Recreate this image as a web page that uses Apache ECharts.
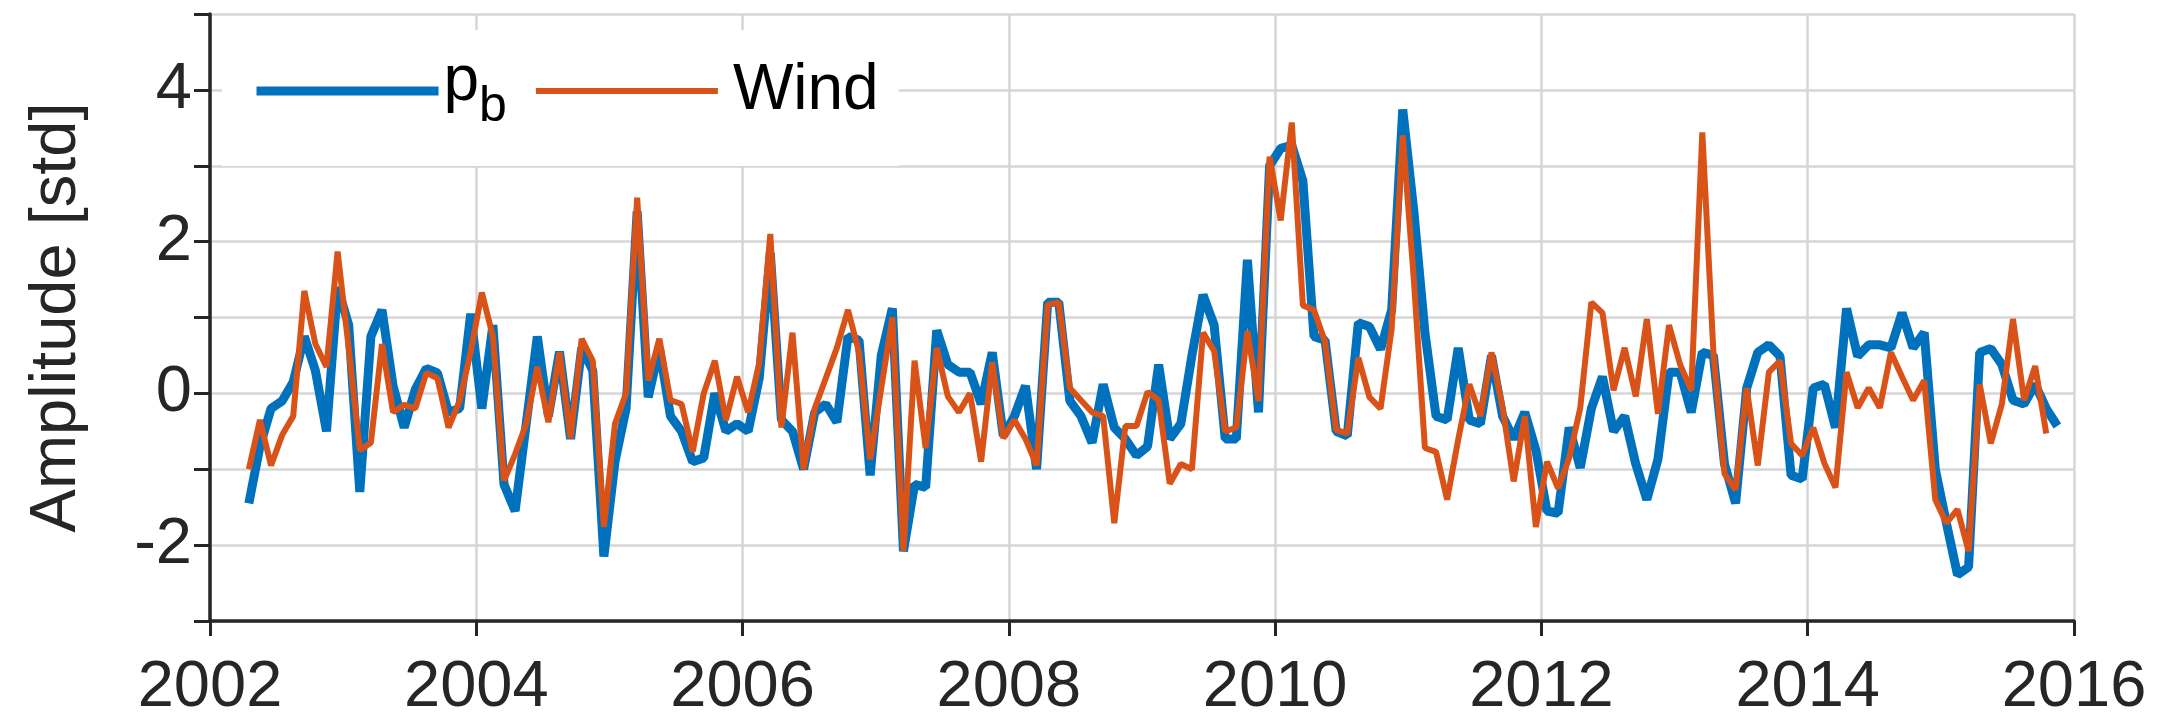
<!DOCTYPE html>
<html>
<head>
<meta charset="utf-8">
<title>Amplitude time series</title>
<script src="https://cdn.jsdelivr.net/npm/echarts@6/dist/echarts.min.js"></script>
<style>
  html, body { margin: 0; padding: 0; background: #ffffff; }
  #chart { width: 2159px; height: 721px; }
</style>
</head>
<body>
<div id="chart"></div>
<script>
// Monthly series, first month April 2002
const startYear = 2002;
const startMonth = 4;

// Bottom pressure amplitude (std units)
const pb = [
  -1.45, -0.70, -0.20, -0.10, 0.15, 0.75, 0.30, -0.50, 1.40, 0.90,
  -1.30, 0.75, 1.10, 0.10, -0.45, 0.05, 0.33, 0.27, -0.25, -0.20,
  1.05, -0.20, 0.90, -1.20, -1.55, -0.40, 0.75, -0.30, 0.55, -0.60,
  0.60, 0.30, -2.15, -0.90, -0.20, 2.40, -0.05, 0.60, -0.30, -0.50,
  -0.90, -0.85, 0.00, -0.50, -0.40, -0.50, 0.20, 1.85, -0.35, -0.50,
  -1.00, -0.25, -0.14, -0.38, 0.75, 0.70, -1.08, 0.50, 1.12, -2.08,
  -1.20, -1.24, 0.83, 0.38, 0.28, 0.28, -0.14, 0.54, -0.56, -0.30,
  0.10, -1.00, 1.20, 1.20, -0.10, -0.30, -0.65, 0.12, -0.45, -0.60,
  -0.82, -0.70, 0.38, -0.60, -0.40, 0.50, 1.30, 0.90, -0.60, -0.60,
  1.76, -0.25, 3.00, 3.23, 3.27, 2.80, 0.75, 0.70, -0.50, -0.56,
  0.93, 0.88, 0.58, 1.10, 3.74, 2.40, 0.80, -0.30, -0.35, 0.60,
  -0.35, -0.40, 0.50, -0.30, -0.60, -0.25, -0.75, -1.55, -1.58, -0.45,
  -0.98, -0.20, 0.22, -0.50, -0.30, -0.93, -1.40, -0.87, 0.28, 0.28,
  -0.25, 0.54, 0.50, -0.93, -1.45, 0.07, 0.54, 0.64, 0.49, -1.08,
  -1.13, 0.07, 0.12, -0.45, 1.12, 0.49, 0.64, 0.64, 0.60, 1.06,
  0.60, 0.80, -1.00, -1.71, -2.39, -2.29, 0.54, 0.59, 0.38, -0.09,
  -0.14, 0.12, -0.20, -0.43
];

// Wind amplitude (std units)
const wind = [
  -1.00, -0.35, -0.95, -0.55, -0.30, 1.35, 0.65, 0.35, 1.87, 0.60,
  -0.75, -0.65, 0.65, -0.25, -0.15, -0.20, 0.27, 0.20, -0.45, -0.10,
  0.55, 1.33, 0.75, -1.15, -0.80, -0.40, 0.35, -0.38, 0.54, -0.59,
  0.72, 0.43, -1.76, -0.40, 0.00, 2.58, 0.17, 0.72, -0.09, -0.14,
  -0.77, 0.00, 0.43, -0.35, 0.22, -0.25, 0.40, 2.10, -0.45, 0.80,
  -1.00, -0.20, 0.20, 0.60, 1.10, 0.54, -0.87, 0.07, 1.00, -2.08,
  0.43, -0.72, 0.60, -0.04, -0.25, 0.00, -0.90, 0.41, -0.59, -0.35,
  -0.60, -0.95, 1.17, 1.20, 0.07, -0.09, -0.25, -0.30, -1.71, -0.43,
  -0.43, 0.02, -0.09, -1.19, -0.93, -1.00, 0.80, 0.56, -0.50, -0.45,
  0.82, -0.10, 3.12, 2.28, 3.57, 1.16, 1.10, 0.68, -0.48, -0.53,
  0.47, -0.05, -0.20, 0.85, 3.40, 1.50, -0.72, -0.77, -1.40, -0.61,
  0.12, -0.30, 0.54, -0.19, -1.16, -0.30, -1.76, -0.90, -1.25, -0.85,
  -0.19, 1.20, 1.06, 0.04, 0.60, -0.04, 0.98, -0.27, 0.90, 0.38,
  0.04, 3.44, 0.54, -1.06, -1.27, 0.07, -0.95, 0.28, 0.43, -0.66,
  -0.82, -0.45, -0.92, -1.24, 0.28, -0.19, 0.07, -0.19, 0.54, 0.22,
  -0.09, 0.17, -1.40, -1.71, -1.53, -2.08, 0.12, -0.66, -0.14, 0.98,
  -0.09, 0.36, -0.53
];

const yearTicks = { min: 2002, max: 2016, step: 2 };
const ampTicks = { min: -3, max: 5, step: 1 };

// decimal year at the middle of month k after the start month
function monthTime(k) {
  return startYear + (startMonth - 1 + k + 0.5) / 12;
}
function pairs(values) {
  return values.map((v, k) => [monthTime(k), v]);
}

const axisColor = '#262626';
const gridColor = '#d6d6d6';
const blue = '#0072BD';
const orange = '#D95319';
const fontFamily = '"Liberation Sans", Helvetica, Arial, sans-serif';

const chart = echarts.init(document.getElementById('chart'), null, { renderer: 'canvas' });

chart.setOption({
  backgroundColor: '#ffffff',
  animation: false,
  textStyle: { fontFamily: fontFamily },
  grid: { left: 210, right: 85, top: 14, bottom: 99, containLabel: false },
  legend: {
    show: true,
    type: 'plain',
    left: 222,
    top: 30,
    width: 1200,
    orient: 'horizontal',
    backgroundColor: '#ffffff',
    padding: [20, 20, 34, 30],
    itemWidth: 182,
    itemHeight: 20,
    itemGap: 26,
    textStyle: {
      fontSize: 64,
      color: '#000000',
      fontFamily: fontFamily,
      rich: {
        p: { fontSize: 64, color: '#000000', fontFamily: fontFamily,
             verticalAlign: 'bottom', padding: [0, 0, 18, 0] },
        sub: { fontSize: 50, color: '#000000', fontFamily: fontFamily,
               verticalAlign: 'bottom' },
        w: { fontSize: 64, color: '#000000', fontFamily: fontFamily, padding: [0, 0, 0, 10] }
      }
    },
    formatter: function (name) {
      return name === 'pb' ? '{p|p}{sub|b}' : '{w|' + name + '}';
    },
    data: [
      { name: 'pb', lineStyle: { width: 9 }, itemStyle: { opacity: 0 } },
      { name: 'Wind', lineStyle: { width: 6 }, itemStyle: { opacity: 0 } }
    ]
  },
  xAxis: {
    type: 'value',
    min: yearTicks.min,
    max: yearTicks.max,
    interval: yearTicks.step,
    axisLine: { show: true, onZero: false, lineStyle: { color: axisColor, width: 3.5 } },
    axisTick: { show: true, inside: false, length: 15, lineStyle: { color: axisColor, width: 3 } },
    axisLabel: { fontSize: 65, color: axisColor, margin: 35, fontFamily: fontFamily,
      formatter: function (v) { return String(v); } },
    splitLine: { show: true, lineStyle: { color: gridColor, width: 2.5 } }
  },
  yAxis: {
    type: 'value',
    min: ampTicks.min,
    max: ampTicks.max,
    interval: ampTicks.step,
    name: 'Amplitude [std]',
    nameLocation: 'middle',
    nameGap: 120,
    nameTextStyle: { fontSize: 65, color: axisColor, fontFamily: fontFamily },
    axisLine: { show: true, onZero: false, lineStyle: { color: axisColor, width: 3.5 } },
    axisTick: { show: true, inside: false, length: 16, lineStyle: { color: axisColor, width: 3 } },
    axisLabel: { fontSize: 65, color: axisColor, margin: 18, fontFamily: fontFamily,
      formatter: function (v) { return (v % 2 === 0) ? String(v) : ''; } },
    splitLine: { show: true, lineStyle: { color: gridColor, width: 2.5 } }
  },
  series: [
    {
      name: 'pb',
      type: 'line',
      data: pairs(pb),
      symbol: 'none',
      itemStyle: { color: blue },
      lineStyle: { color: blue, width: 9 },
      z: 2
    },
    {
      name: 'Wind',
      type: 'line',
      data: pairs(wind),
      symbol: 'none',
      itemStyle: { color: orange },
      lineStyle: { color: orange, width: 6 },
      z: 3
    }
  ]
});
</script>
</body>
</html>
